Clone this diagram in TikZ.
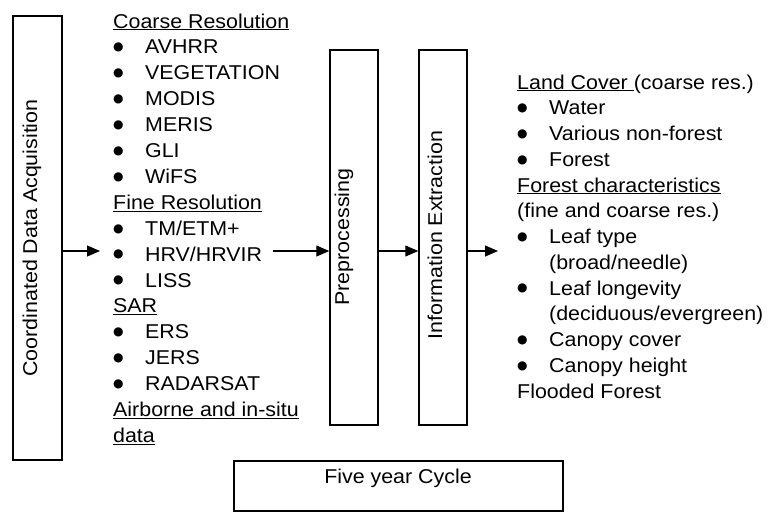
\documentclass[tikz,border=0pt]{standalone}
\usepackage{fontspec}
\setmainfont{Liberation Sans}[FakeStretch=1.07]
\newfontfamily\symfont{DejaVu Sans}
\usetikzlibrary{arrows.meta, positioning}

% bullet mark used in the lists
\newcommand{\dotmark}{\raisebox{3.2pt}{\fontsize{12}{12}\symfont ●}}
\newcommand{\blt}[1]{\makebox[32pt][l]{\dotmark}#1}

\begin{document}
\begin{tikzpicture}[
    x=1pt, y=-1pt,
    every node/.style={font=\fontsize{20}{26}\selectfont},
    box/.style={draw, line width=1.5pt, inner sep=0pt},
    vlabel/.style={rotate=90, anchor=base, inner sep=0pt},
    txt/.style={anchor=base west, inner sep=0pt},
    arrow/.style={-{Triangle[length=13pt, width=11pt]}, line width=1.1pt}
]
    \useasboundingbox (0,0) rectangle (769,512);

    % process boxes
    \node[box, minimum width=49pt, minimum height=444pt] (acq) at (37.5,238) {};
    \node[box, minimum width=48pt, minimum height=375pt] (prep) at (354,237.5) {};
    \node[box, minimum width=48pt, minimum height=375pt] (info) at (443,237.5) {};
    \node[box, minimum width=329pt, minimum height=50pt] (cycle) at (398.5,486) {};

    \node[vlabel] (acqtext) at (37,238) {Coordinated Data Acquisition};
    \node[vlabel] (preptext) at (349,237) {Preprocessing};
    \node[vlabel] (infotext) at (442,235) {Information Extraction};
    \node[anchor=base, inner sep=0pt] (cycletext) at (398,483) {Five year Cycle};

    % sensors
    \node[txt] (coarse) at (113,28) {\underline{Coarse Resolution}};
    \node[txt] (avhrr) at (113,53.9) {\blt{AVHRR}};
    \node[txt] (veg) at (113,79.8) {\blt{VEGETATION}};
    \node[txt] (modis) at (113,105.7) {\blt{MODIS}};
    \node[txt] (meris) at (113,131.6) {\blt{MERIS}};
    \node[txt] (gli) at (113,157.5) {\blt{GLI}};
    \node[txt] (wifs) at (113,183.4) {\blt{WiFS}};
    \node[txt] (fine) at (113,209.3) {\underline{Fine Resolution}};
    \node[txt] (tm) at (113,235.2) {\blt{TM/ETM+}};
    \node[txt] (hrv) at (113,261.1) {\blt{HRV/HRVIR}};
    \node[txt] (liss) at (113,287) {\blt{LISS}};
    \node[txt] (sar) at (113,312.9) {\underline{SAR}};
    \node[txt] (ers) at (113,338.8) {\blt{ERS}};
    \node[txt] (jers) at (113,364.7) {\blt{JERS}};
    \node[txt] (radarsat) at (113,390.6) {\blt{RADARSAT}};
    \node[txt] (airborne) at (113,416.5) {\underline{Airborne and in-situ}};
    \node[txt] (airdata) at (113,442.4) {\underline{data}};

    % products
    \node[txt] (landcover) at (517,89) {\underline{Land Cover\ }(coarse res.)};
    \node[txt] (water) at (517,114.75) {\blt{Water}};
    \node[txt] (nonforest) at (517,140.5) {\blt{Various non-forest}};
    \node[txt] (forest) at (517,166.25) {\blt{Forest}};
    \node[txt] (forestchar) at (517,192) {\underline{Forest characteristics}};
    \node[txt] (fineres) at (517,217.75) {(fine and coarse res.)};
    \node[txt] (leaftype) at (517,243.5) {\blt{Leaf type}};
    \node[txt] (leaftypeb) at (549,269.25) {(broad/needle)};
    \node[txt] (leaflong) at (517,295) {\blt{Leaf longevity}};
    \node[txt] (leaflongb) at (549,320.75) {(deciduous/evergreen)};
    \node[txt] (canopycov) at (517,346.5) {\blt{Canopy cover}};
    \node[txt] (canopyht) at (517,372.25) {\blt{Canopy height}};
    \node[txt] (flooded) at (517,398) {Flooded Forest};

    \coordinate (feed) at (100,251);
    \coordinate (result) at (498,251);

    \draw[arrow] (acq.east |- feed) -- (feed);
    \draw[arrow, shorten <=11pt] (hrv.east |- feed) -- (prep.west |- feed);
    \draw[arrow] (prep.east |- feed) -- (info.west |- feed);
    \draw[arrow] (info.east |- feed) -- (result);
\end{tikzpicture}
\end{document}
